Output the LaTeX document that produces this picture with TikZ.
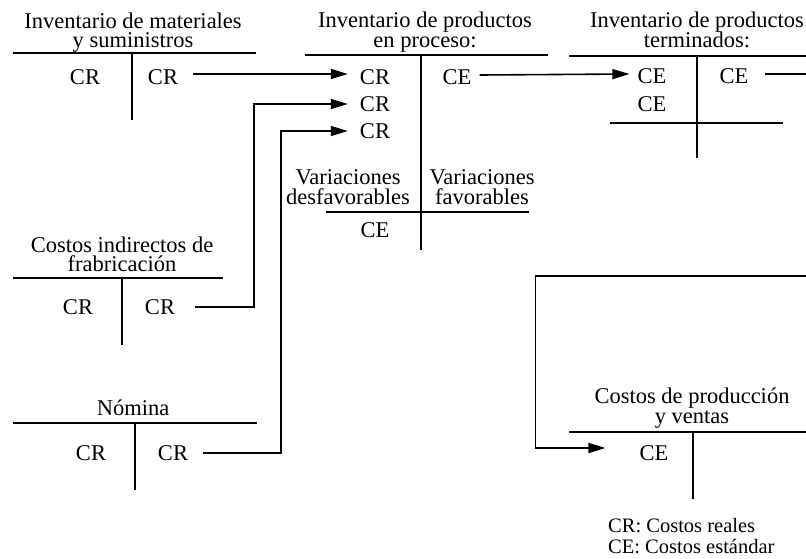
\documentclass[tikz,border=0pt]{standalone}
\usepackage{fontspec}
\setmainfont{Liberation Serif}
\usetikzlibrary{arrows.meta}
\setlength{\lineskiplimit}{-100pt}
\tikzset{
  lbl/.style={inner sep=0pt, font=\fontsize{22.5}{20}\selectfont},
  ttl/.style={lbl, anchor=base, align=center},
  leg/.style={inner sep=0pt, anchor=base west, align=left, font=\fontsize{20.5}{21}\selectfont},
  tline/.style={line width=2.6pt},
  conn/.style={line width=1.6pt},
  arr/.style={conn, -{Triangle[length=17pt,width=10pt]}}
}
\begin{document}
\begin{tikzpicture}[x=1pt,y=-1pt]
\useasboundingbox (0,0) rectangle (806,558);

% ---------- Inventario de materiales y suministros
\node[ttl] (t1) at (133,47) {Inventario de materiales\\[-1pt]y suministros};
\draw[tline] (13,53) -- (256,53);
\draw[tline] (132,53) -- (132,120);
\node[lbl] (a1l) at (85,77) {CR};
\node[lbl] (a1r) at (163,77) {CR};

% ---------- Inventario de productos en proceso
\node[ttl] (t2) at (425,47) {Inventario de productos\\en proceso:};
\draw[tline] (305,55) -- (548,55);
\draw[tline] (421,55) -- (421,250);
\node[lbl] (a2l1) at (375,77) {CR};
\node[lbl] (a2l2) at (375,104) {CR};
\node[lbl] (a2l3) at (375,131) {CR};
\node[lbl] (a2r) at (457,77) {CE};
\node[ttl] (vd) at (348,204) {Variaciones\\desfavorables};
\node[ttl] (vf) at (482,204) {Variaciones\\favorables};
\draw[tline] (326,212) -- (529,212);
\node[lbl] (a2v) at (375,230) {CE};

% ---------- Inventario de productos terminados
\node[ttl] (t3) at (697,47) {Inventario de productos\\terminados:};
\draw[tline] (569,56) -- (806,56);
\draw[tline] (697,56) -- (697,158);
\draw[tline] (610,123) -- (783,123);
\node[lbl] (a3l1) at (652,76) {CE};
\node[lbl] (a3l2) at (652,104) {CE};
\node[lbl] (a3r) at (734,76) {CE};

% ---------- Costos indirectos de fabricación
\node[ttl] (t4) at (122,271) {Costos indirectos de\\[-1pt]frabricación};
\draw[tline] (13,278) -- (223,278);
\draw[tline] (122,278) -- (122,345);
\node[lbl] (a4l) at (78,307) {CR};
\node[lbl] (a4r) at (160,307) {CR};

% ---------- Nómina
\node[ttl] (t5) at (133,415) {Nómina};
\draw[tline] (13,423) -- (257,423);
\draw[tline] (135,423) -- (135,490);
\node[lbl] (a5l) at (91,453) {CR};
\node[lbl] (a5r) at (173,453) {CR};

% ---------- Costos de producción y ventas
\node[ttl] (t6) at (692,423) {Costos de producción\\y ventas};
\draw[tline] (569,432) -- (806,432);
\draw[tline] (693,432) -- (693,499);
\node[lbl] (a6) at (654,453) {CE};

% ---------- Legend
\node[leg] (leg) at (608,553) {CR: Costos reales\\CE: Costos estándar};

% ---------- Connectors
\coordinate (edge1) at (806,74);
\coordinate (edge2) at (806,276);
\draw[arr] ([xshift=15pt,yshift=3pt]a1r.east) -- ([xshift=-12pt,yshift=3pt]a2l1.west);
\draw[arr] ([xshift=20pt]a4r.east) -| ([xshift=-106pt]a2l2.west) -- ([xshift=-12pt]a2l2.west);
\draw[arr] ([xshift=15pt]a5r.east) -| ([xshift=-79pt]a2l3.west) -- ([xshift=-12pt]a2l3.west);
\draw[arr] ([xshift=8pt,yshift=2pt]a2r.east) -- ([xshift=-8pt,yshift=2pt]a3l1.west);
\draw[conn] ([xshift=16pt,yshift=2pt]a3r.east) -- (edge1);
\draw[arr] (edge2) -| ([xshift=-104pt,yshift=5pt]a6.west) -- ([xshift=-34pt,yshift=5pt]a6.west);
\end{tikzpicture}
\end{document}
